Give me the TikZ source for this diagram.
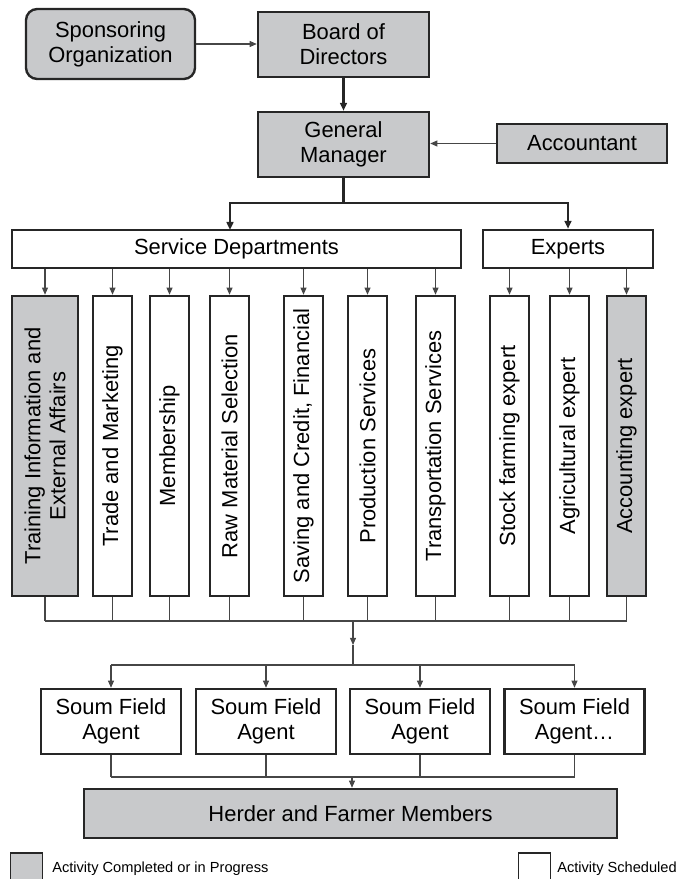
\documentclass[tikz,border=0pt]{standalone}
\usepackage{fontspec}
\setmainfont{Liberation Sans}
\usetikzlibrary{
    arrows.meta,
    positioning
}
\definecolor{donegray}{RGB}{200,201,203}
\definecolor{edgegray}{RGB}{38,38,38}
\definecolor{wiregray}{RGB}{70,70,70}
\newcommand{\boxfont}{\fontsize{15.6pt}{17.8pt}\selectfont}
\newcommand{\keyfont}{\fontsize{10.4pt}{12pt}\selectfont}

\begin{document}
\begin{tikzpicture}[
        x=0.025cm, y=-0.025cm,
        box/.style={draw=edgegray, line width=1.7pt, inner sep=2pt, align=center, font=\boxfont, fill=#1},
        box/.default=white,
        vbox/.style={box=#1, rotate=90, minimum width=7.5cm, minimum height=0.975cm},
        vbox/.default=white,
        keybox/.style={draw=edgegray, line width=0.8pt, fill=#1, minimum width=0.8cm, minimum height=0.75cm},
        keytext/.style={font=\keyfont, inner sep=0pt, anchor=base west},
        arrow/.style={-{Triangle[length=1.8mm, width=1.5mm]}, line width=0.8pt, draw=wiregray},
        thickarrow/.style={-{Triangle[length=2mm, width=1.7mm]}, line width=1.6pt, draw=edgegray},
        wire/.style={line width=0.8pt, draw=wiregray}
    ]
        \useasboundingbox (0,0) rectangle (678,879);

        % Top level
        \node[box=donegray, rounded corners=8pt, minimum width=4.225cm, minimum height=1.75cm] (spons) at (110.5,44) {Sponsoring\\Organization};
        \node[box=donegray, minimum width=4.275cm, minimum height=1.625cm] (board) at (343.5,44.5) {Board of\\Directors};
        \node[box=donegray, minimum width=4.275cm, minimum height=1.625cm] (gm) at (343.5,144.5) {General\\Manager};
        \node[box=donegray, minimum width=4.25cm, minimum height=0.975cm] (acct) at (582,143.5) {Accountant};

        % Groups
        \node[box, minimum width=11.225cm, minimum height=0.95cm] (servdep) at (236.5,249) {Service Departments};
        \node[box, minimum width=4.25cm, minimum height=0.95cm] (experts) at (568,249) {Experts};

        % Service departments
        \node[vbox=donegray, minimum height=1.65cm] (d1) at (45,446) {Training Information and\\External Affairs};
        \node[vbox] (d2) at (112.5,446) {Trade and Marketing};
        \node[vbox] (d3) at (169.5,446) {Membership};
        \node[vbox] (d4) at (229.5,446) {Raw Material Selection};
        \node[vbox] (d5) at (303.5,446) {Saving and Credit, Financial};
        \node[vbox] (d6) at (367.5,446) {Production Services};
        \node[vbox] (d7) at (435.5,446) {Transportation Services};

        % Experts
        \node[vbox] (e1) at (509.5,446) {Stock farming expert};
        \node[vbox] (e2) at (569.5,446) {Agricultural expert};
        \node[vbox=donegray] (e3) at (626.5,446) {Accounting expert};

        % Field agents
        \node[box, minimum width=3.5cm, minimum height=1.625cm] (soum1) at (111,721.5) {Soum Field\\Agent};
        \node[box, minimum width=3.5cm, minimum height=1.625cm] (soum2) at (266,721.5) {Soum Field\\Agent};
        \node[box, minimum width=3.5cm, minimum height=1.625cm] (soum3) at (420,721.5) {Soum Field\\Agent};
        \node[box, minimum width=3.5cm, minimum height=1.625cm] (soum4) at (574.5,721.5) {Soum Field\\Agent…};

        % Members
        \node[box=donegray, minimum width=13.325cm, minimum height=1.225cm] (herder) at (350.5,813.5) {Herder and Farmer Members};

        % Legend
        \node[keybox=donegray] (keydone) at (26.5,868) {};
        \node[keytext] (keydonetxt) at (52,872) {Activity Completed or in Progress};
        \node[keybox=white] (keyplan) at (534.5,868) {};
        \node[keytext] (keyplantxt) at (557,872) {Activity Scheduled};

        % Junctions
        \coordinate (split) at (343.5,203);
        \coordinate (sdtop) at (230,230);
        \coordinate (bus1) at (353,621);
        \coordinate (mid1) at (353,645);
        \coordinate (bus2) at (353,665);
        \coordinate (bus3) at (352,777);

        % Arrows at the top
        \draw[arrow] (spons.east) -- (spons.east -| board.west);
        \draw[thickarrow] (board.south) -- (gm.north);
        \draw[arrow] (acct.west) -- (acct.west -| gm.east);
        \draw[thickarrow] (gm.south) -- (split) -| (sdtop);
        \draw[thickarrow] (split) -| (experts.north);

        % Arrows into the columns
        \foreach \d in {d1, d2, d3, d4, d5, d6, d7} {
            \draw[arrow] (servdep.south -| \d.center) -- (\d.east);
        }
        \foreach \e in {e1, e2, e3} {
            \draw[arrow] (experts.south -| \e.center) -- (\e.east);
        }

        % Columns to the agents
        \foreach \c in {d1, d2, d3, d4, d5, d6, d7, e1, e2, e3} {
            \draw[wire] (\c.west) -- (\c.west |- bus1);
        }
        \draw[wire] (d1.west |- bus1) -- (e3.west |- bus1);
        \draw[arrow] (bus1) -- (mid1);
        \draw[wire] (mid1) -- (bus2);
        \draw[wire] (soum1.north |- bus2) -- (soum4.north |- bus2);
        \foreach \s in {soum1, soum2, soum3, soum4} {
            \draw[arrow] (\s.north |- bus2) -- (\s.north);
            \draw[wire] (\s.south) -- (\s.south |- bus3);
        }

        % Agents to the members
        \draw[wire] (soum1.south |- bus3) -- (soum4.south |- bus3);
        \draw[arrow] (bus3) -- (herder.north -| bus3);

    \end{tikzpicture}
\end{document}
